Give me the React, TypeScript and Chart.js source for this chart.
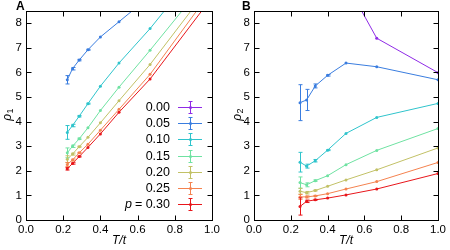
import React, { useEffect, useRef } from "react";
import { Chart, registerables } from "chart.js";
Chart.register(...registerables);

const FONT = "'Liberation Sans', Arial, sans-serif";

// ---- data ----
const pLabels = ["0.00", "0.05", "0.10", "0.15", "0.20", "0.25", "0.30"];
const colors = ["#8f2be6", "#3a7ddf", "#2fc4cc", "#6fe2a2", "#c2c166", "#f4824f", "#e8161b"];

const xTicks = [0, 0.2, 0.4, 0.6, 0.8, 1.0];
const yTicks = [0, 1, 2, 3, 4, 5, 6, 7, 8];

// Panel A: rho_1 vs T/t
const tA = [0.222, 0.25, 0.286, 0.333, 0.4, 0.5, 0.667, 1.0];
const rho1_p000 = [10.5, 10.8, 11.1, 11.5, 12.0, 12.8, 14.0, 16.5];
const rho1_p005 = [5.7, 6.15, 6.5, 6.92, 7.44, 8.06, 9.1, 11.0];
const rho1_p010 = [3.56, 3.84, 4.22, 4.73, 5.44, 6.38, 7.78, 10.9];
const rho1_p015 = [2.73, 3.0, 3.3, 3.75, 4.45, 5.4, 6.9, 10.0];
const rho1_p020 = [2.47, 2.68, 2.98, 3.36, 3.95, 4.85, 6.32, 9.62];
const rho1_p025 = [2.26, 2.44, 2.73, 3.08, 3.65, 4.5, 5.92, 9.35];
const rho1_p030 = [2.08, 2.3, 2.58, 2.95, 3.5, 4.38, 5.73, 9.05];
const err1_p000 = [0.1, 0.05, 0.05, 0, 0, 0, 0, 0];
const err1_p005 = [0.17, 0.05, 0.03, 0.02, 0, 0, 0, 0];
const err1_p010 = [0.28, 0.05, 0.03, 0.02, 0, 0, 0, 0];
const err1_p015 = [0.2, 0.05, 0.03, 0, 0, 0, 0, 0];
const err1_p020 = [0.14, 0.04, 0.02, 0, 0, 0, 0, 0];
const err1_p025 = [0.08, 0.04, 0.02, 0, 0, 0, 0, 0];
const err1_p030 = [0.05, 0.03, 0.02, 0, 0, 0, 0, 0];

// Panel B: rho_2 vs T/t
const tB = [0.25, 0.286, 0.333, 0.4, 0.5, 0.667, 1.0];
const rho2_p000 = [16.0, 14.5, 13.0, 11.5, 9.65, 7.39, 5.99];
const rho2_p005 = [4.77, 4.88, 5.45, 5.88, 6.38, 6.23, 5.7];
const rho2_p010 = [2.35, 2.19, 2.41, 2.84, 3.52, 4.17, 4.74];
const rho2_p015 = [1.52, 1.43, 1.6, 1.8, 2.25, 2.83, 3.72];
const rho2_p020 = [1.17, 1.11, 1.2, 1.37, 1.63, 2.04, 2.93];
const rho2_p025 = [0.94, 0.94, 0.98, 1.07, 1.26, 1.56, 2.34];
const rho2_p030 = [0.55, 0.76, 0.82, 0.89, 1.02, 1.26, 1.89];
const err2_p000 = [0.5, 0.3, 0.1, 0, 0, 0, 0];
const err2_p005 = [0.73, 0.43, 0.08, 0.03, 0, 0, 0];
const err2_p010 = [0.4, 0.08, 0.05, 0.02, 0, 0, 0];
const err2_p015 = [0.23, 0.08, 0.03, 0, 0, 0, 0];
const err2_p020 = [0.12, 0.05, 0.02, 0, 0, 0, 0];
const err2_p025 = [0.1, 0.04, 0.02, 0, 0, 0, 0];
const err2_p030 = [0.35, 0.05, 0.02, 0, 0, 0, 0];

const rho1 = [rho1_p000, rho1_p005, rho1_p010, rho1_p015, rho1_p020, rho1_p025, rho1_p030];
const err1 = [err1_p000, err1_p005, err1_p010, err1_p015, err1_p020, err1_p025, err1_p030];
const rho2 = [rho2_p000, rho2_p005, rho2_p010, rho2_p015, rho2_p020, rho2_p025, rho2_p030];
const err2 = [err2_p000, err2_p005, err2_p010, err2_p015, err2_p020, err2_p025, err2_p030];

type PanelCfg = {
  letter: string;
  sub: string;
  ts: number[];
  vals: number[][];
  errs: number[][];
  yWidth: number;
  rightPad: number;
  legend: boolean;
};

function makePlugin(cfg: PanelCfg) {
  return {
    id: "panelDecor" + cfg.letter,
    afterDatasetsDraw(chart: any) {
      const ctx = chart.ctx;
      const ca = chart.chartArea;
      const xs = chart.scales.x;
      const ys = chart.scales.y;
      ctx.save();
      ctx.beginPath();
      ctx.rect(ca.left, ca.top, ca.right - ca.left, ca.bottom - ca.top);
      ctx.clip();
      cfg.vals.forEach((series, i) => {
        ctx.strokeStyle = colors[i];
        ctx.lineWidth = 1;
        series.forEach((v, j) => {
          const e = cfg.errs[i][j];
          if (!e) return;
          const px = Math.round(xs.getPixelForValue(cfg.ts[j])) + 0.5;
          const y1 = ys.getPixelForValue(v + e);
          const y2 = ys.getPixelForValue(v - e);
          ctx.beginPath();
          ctx.moveTo(px, y1);
          ctx.lineTo(px, y2);
          ctx.moveTo(px - 2, y1);
          ctx.lineTo(px + 2, y1);
          ctx.moveTo(px - 2, y2);
          ctx.lineTo(px + 2, y2);
          ctx.stroke();
        });
      });
      ctx.restore();
    },
    afterDraw(chart: any) {
      const ctx = chart.ctx;
      const ca = chart.chartArea;
      const xs = chart.scales.x;
      const ys = chart.scales.y;
      const L = Math.round(ca.left) + 0.5;
      const R = Math.round(ca.right) + 0.5;
      const T = Math.round(ca.top) + 0.5;
      const B = Math.round(ca.bottom) + 0.5;
      ctx.save();
      ctx.strokeStyle = "#000";
      ctx.lineWidth = 1;
      ctx.strokeRect(L, T, R - L, B - T);
      ctx.beginPath();
      const tl = 5;
      xTicks.forEach((v) => {
        const px = Math.round(xs.getPixelForValue(v)) + 0.5;
        ctx.moveTo(px, B);
        ctx.lineTo(px, B - tl);
        ctx.moveTo(px, T);
        ctx.lineTo(px, T + tl);
      });
      yTicks.forEach((v) => {
        const py = Math.round(ys.getPixelForValue(v)) + 0.5;
        ctx.moveTo(L, py);
        ctx.lineTo(L + tl, py);
        ctx.moveTo(R, py);
        ctx.lineTo(R - tl, py);
      });
      ctx.stroke();

      // x title
      ctx.fillStyle = "#000";
      ctx.font = "italic 12px " + FONT;
      ctx.textAlign = "center";
      ctx.textBaseline = "middle";
      ctx.fillText("T/t", (ca.left + ca.right) / 2, 241);

      // y title (rotated) rho with subscript
      ctx.save();
      ctx.translate(cfg.letter === "A" ? 8 : 13, 114);
      ctx.rotate(-Math.PI / 2);
      ctx.font = "italic 12px " + FONT;
      ctx.textAlign = "right";
      ctx.textBaseline = "middle";
      ctx.fillText("\u03c1", 0, 0);
      ctx.font = "9px " + FONT;
      ctx.textAlign = "left";
      ctx.fillText(cfg.sub, 0.5, 3);
      ctx.restore();

      // panel letter
      ctx.font = "bold 12px " + FONT;
      ctx.textAlign = "left";
      ctx.textBaseline = "top";
      ctx.fillText(cfg.letter, cfg.letter === "A" ? 16 : 17, 1);

      if (cfg.legend) {
        const textRight = 170;
        const x0 = 178;
        const x1 = 202;
        const xm = 190.5;
        pLabels.forEach((lab, i) => {
          const y = Math.round(107 + i * 16.2) + 0.5;
          ctx.font = "12.5px " + FONT;
          ctx.textAlign = "right";
          ctx.textBaseline = "middle";
          ctx.fillStyle = "#000";
          if (i === pLabels.length - 1) {
            const rest = "= " + lab;
            ctx.fillText(rest, textRight, y);
            const w = ctx.measureText(rest).width;
            ctx.font = "italic 12.5px " + FONT;
            ctx.fillText("p", textRight - w - 3, y);
          } else {
            ctx.fillText(lab, textRight, y);
          }
          ctx.strokeStyle = colors[i];
          ctx.lineWidth = 1;
          ctx.beginPath();
          ctx.moveTo(x0, y);
          ctx.lineTo(x1, y);
          ctx.moveTo(xm, y - 6);
          ctx.lineTo(xm, y + 6);
          ctx.moveTo(xm - 2, y - 6);
          ctx.lineTo(xm + 2, y - 6);
          ctx.moveTo(xm - 2, y + 6);
          ctx.lineTo(xm + 2, y + 6);
          ctx.stroke();
          ctx.fillStyle = colors[i];
          ctx.beginPath();
          ctx.arc(xm, y, 1.5, 0, Math.PI * 2);
          ctx.fill();
        });
      }
      ctx.restore();
    },
  };
}

function Panel({ cfg, left }: { cfg: PanelCfg; left: number }) {
  const ref = useRef<HTMLCanvasElement | null>(null);
  useEffect(() => {
    if (!ref.current) return;
    const datasets = cfg.vals.map((series, i) => ({
      label: pLabels[i],
      data: series.map((v, j) => ({ x: cfg.ts[j], y: v })),
      borderColor: colors[i],
      backgroundColor: colors[i],
      borderWidth: 1,
      pointRadius: 1.5,
      pointBorderWidth: 0,
      pointBackgroundColor: colors[i],
      tension: 0,
      fill: false,
    }));
    const chart = new Chart(ref.current, {
      type: "line",
      data: { datasets },
      options: {
        responsive: false,
        animation: false,
        devicePixelRatio: 1,
        layout: { padding: { top: 2, right: cfg.rightPad, left: 0, bottom: 0 } },
        plugins: { legend: { display: false }, tooltip: { enabled: false } },
        scales: {
          x: {
            type: "linear",
            min: 0,
            max: 1,
            afterBuildTicks: (s: any) => {
              s.ticks = xTicks.map((v) => ({ value: v }));
            },
            afterFit: (s: any) => {
              s.height = 30;
            },
            ticks: {
              callback: (v: any) => Number(v).toFixed(1),
              font: { family: FONT, size: 11.5 },
              color: "#000",
              padding: 3,
              maxRotation: 0,
              autoSkip: false,
            },
            grid: { display: false, drawTicks: false },
            border: { display: false },
          },
          y: {
            type: "linear",
            min: 0,
            max: 8.5,
            afterBuildTicks: (s: any) => {
              s.ticks = yTicks.map((v) => ({ value: v }));
            },
            afterFit: (s: any) => {
              s.width = cfg.yWidth;
            },
            ticks: {
              callback: (v: any) => String(v),
              font: { family: FONT, size: 11.5 },
              color: "#000",
              padding: 4,
              autoSkip: false,
            },
            grid: { display: false, drawTicks: false },
            border: { display: false },
          },
        },
      },
      plugins: [makePlugin(cfg)],
    } as any);
    return () => chart.destroy();
  }, [cfg]);
  return (
    <canvas
      ref={ref}
      width={225}
      height={250}
      style={{ position: "absolute", left, top: 0, width: 225, height: 250 }}
    />
  );
}

const cfgA: PanelCfg = {
  letter: "A",
  sub: "1",
  ts: tA,
  vals: rho1,
  errs: err1,
  yWidth: 26,
  rightPad: 13,
  legend: true,
};
const cfgB: PanelCfg = {
  letter: "B",
  sub: "2",
  ts: tB,
  vals: rho2,
  errs: err2,
  yWidth: 29,
  rightPad: 12,
  legend: false,
};

export default function App() {
  return (
    <div style={{ position: "absolute", left: 0, top: 0, width: 450, height: 250, background: "#fff" }}>
      <Panel cfg={cfgA} left={0} />
      <Panel cfg={cfgB} left={225} />
    </div>
  );
}
